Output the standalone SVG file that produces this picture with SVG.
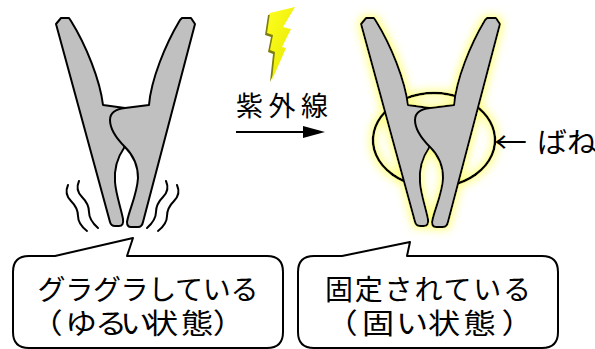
<svg xmlns="http://www.w3.org/2000/svg" width="595" height="349" viewBox="0 0 595 349">
  <style>
    .part { fill: #c0c0c0; stroke: #000; stroke-width: 2; stroke-linejoin: round; }
    .line { fill: none; stroke: #000; stroke-width: 2; stroke-linecap: round; stroke-linejoin: round; }
    .spring { fill: none; stroke: #000; stroke-width: 2.5; }
    .bubble { fill: #fff; stroke: #000; stroke-width: 2; stroke-linejoin: round; }
    .label { font-family: "Noto Sans CJK JP", "Noto Sans", sans-serif; fill: #000; }
  </style>
  <defs>
    <!-- one clothes peg: back arm first, front arm with the S-shaped jaw on top -->
    <g id="peg">
      <path class="part" d="M56,24 L61,18 L69,18 L71,21 C86,45 100,80 103,105 L125,108 L128,135 L124,148 C117,158 114,168 115,182 C116,195 121,208 123,219 Q124,226 119,226 L115,226 Q111,226 110,222 Z"/>
      <path class="part" d="M182,18 L191,18 L195,24 L143,222 Q142,227 138,227 L131,227 Q127,227 127,222 C129,210 137,195 138,178 C138,163 132,154 125,147 C118,140 110,130 110,120 C110,112 116,109 125,108 L149,105 C151,80 165,45 180,20 Z"/>
    </g>
    <filter id="glow" x="-30%" y="-30%" width="160%" height="160%">
      <feMorphology in="SourceAlpha" operator="dilate" radius="2" result="thick"/>
      <feGaussianBlur in="thick" stdDeviation="4" result="soft"/>
      <feFlood flood-color="#ffff60" flood-opacity="0.75"/>
      <feComposite in2="soft" operator="in" result="halo"/>
      <feMerge>
        <feMergeNode in="halo"/>
        <feMergeNode in="SourceGraphic"/>
      </feMerge>
    </filter>
    <linearGradient id="boltFill" x1="0" y1="0" x2="1" y2="1">
      <stop offset="0" stop-color="#ffff20"/>
      <stop offset="1" stop-color="#e6e600"/>
    </linearGradient>
  </defs>

  <!-- loose peg with shake marks -->
  <g id="loose-peg">
    <use href="#peg"/>
    <path class="line" d="M68,185 Q64,194 71,201 T78,216 T87,231"/>
    <path class="line" d="M79,181 Q75,190 82,197 T89,212 T98,228"/>
    <path class="line" d="M177,185 Q181,194 174,201 T167,216 T158,231"/>
    <path class="line" d="M166,181 Q170,190 163,197 T156,212 T147,228"/>
  </g>

  <!-- lightning bolt -->
  <g id="bolt">
    <polygon points="268,15 293,9 281,29 289,31 280,49 284,50 270,82 273,54 268,52 271,37 265,35" fill="#7d7d10"/>
    <polygon points="270,13 295,7 283,27 291,29 282,47 286,48 272,80 275,52 270,50 273,35 267,33" fill="url(#boltFill)"/>
  </g>

  <!-- ultraviolet label and arrow -->
  <g id="uv-arrow">
    <text class="label" x="236" y="116" font-size="27" textLength="92" lengthAdjust="spacing">紫外線</text>
    <line x1="236" y1="132" x2="306" y2="132" stroke="#000" stroke-width="2"/>
    <polygon points="303,126 325,132 303,138" fill="#000"/>
  </g>

  <!-- fixed peg with spring, glowing -->
  <g id="fixed-peg" filter="url(#glow)">
    <path class="spring" d="M416,185 A61,47 0 1 1 452,185"/>
    <use href="#peg" transform="translate(305,0)"/>
  </g>

  <!-- spring label -->
  <g id="spring-label">
    <text class="label" x="494" y="153" font-size="28" textLength="33" lengthAdjust="spacingAndGlyphs">←</text>
    <text class="label" x="537" y="153" font-size="28" textLength="60" lengthAdjust="spacingAndGlyphs">ばね</text>
  </g>

  <!-- speech bubbles; the second lines use slightly widened glyphs -->
  <g id="bubble-loose">
    <path class="bubble" d="M29,256 L55,256 L133,238 L127,256 L267,256 Q283,256 283,272 L283,332 Q283,348 267,348 L29,348 Q13,348 13,332 L13,272 Q13,256 29,256 Z"/>
    <text class="label" x="148" y="300" font-size="28" text-anchor="middle" textLength="221" lengthAdjust="spacing">グラグラしている</text>
    <text class="label" transform="translate(0,334) scale(1.15,1)" x="26.5 56.5 82.6 104.3 127 157.5 185" y="0" font-size="28">（ゆるい状態）</text>
  </g>
  <g id="bubble-fixed">
    <path class="bubble" d="M314,256 L342,256 L410,242 L407,256 L542,256 Q558,256 558,272 L558,332 Q558,348 542,348 L314,348 Q298,348 298,332 L298,272 Q298,256 314,256 Z"/>
    <text class="label" transform="translate(0,334) scale(1.15,1)" x="283 314.8 344.3 372.2 403 436" y="0" font-size="28">（固い状態）</text>
    <text class="label" x="428" y="300" font-size="28" text-anchor="middle" textLength="206" lengthAdjust="spacing">固定されている</text>
  </g>
</svg>
